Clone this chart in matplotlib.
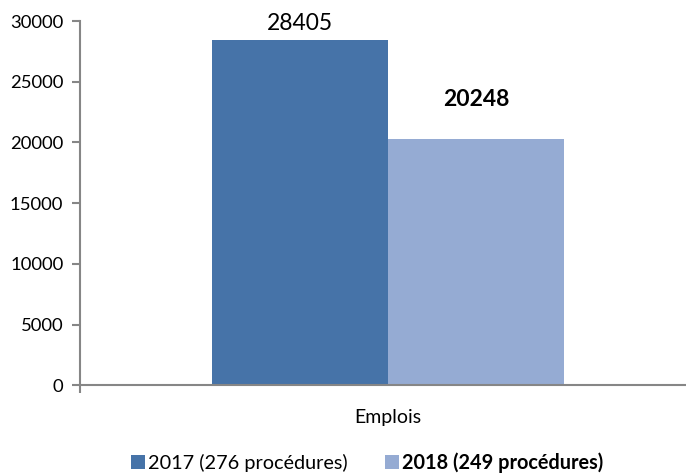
import matplotlib.pyplot as plt
from matplotlib.ticker import NullFormatter

plt.rcParams['font.family'] = ['Lato', 'DejaVu Sans']

# data
category = 'Emplois'
series = ['2017 (276 procédures)', '2018 (249 procédures)']
values = [28405, 20248]
colors = ['#4673a8', '#95abd3']
y_ticks = [0, 5000, 10000, 15000, 20000, 25000, 30000]

axis_grey = '#868686'

fig = plt.figure(figsize=(6.86, 4.73), dpi=100)
ax = fig.add_axes([0.1166, 0.185, 0.898, 0.7706])

bar_w = 0.2857
offsets = [-bar_w / 2, bar_w / 2]
for off, val, col, lab in zip(offsets, values, colors, series):
    ax.bar(off, val, width=bar_w, color=col, label=lab)

# data labels: first normal, second bold
ax.text(offsets[0], values[0] + 500, str(values[0]), ha='center', va='bottom',
        fontsize=16.5)
ax.text(offsets[1], values[1] + 2400, str(values[1]), ha='center', va='bottom',
        fontsize=16.5, fontweight='bold')

ax.set_xlim(-0.5, 0.5)
ax.set_ylim(0, 30000)
ax.set_yticks(y_ticks)
ax.set_yticklabels([str(t) for t in y_ticks], fontsize=13.3)

ax.set_xticks([-0.5, 0.5])
ax.xaxis.set_major_formatter(NullFormatter())
ax.set_xticks([0], minor=True)
ax.set_xticklabels([category], minor=True, fontsize=14)
ax.tick_params(axis='x', which='minor', length=0, pad=17)
ax.tick_params(axis='x', which='major', length=6, color=axis_grey, width=1.5)
ax.tick_params(axis='y', length=6, color=axis_grey, width=1.5, pad=6)

for s in ['top', 'right']:
    ax.spines[s].set_visible(False)
for s in ['left', 'bottom']:
    ax.spines[s].set_color(axis_grey)
    ax.spines[s].set_linewidth(1.5)

leg = ax.legend(loc='center', bbox_to_anchor=(367 / 686, 1 - 463 / 473),
                bbox_transform=fig.transFigure, ncol=2, frameon=False,
                fontsize=14.3, handlelength=0.7, handleheight=0.7,
                handletextpad=0.15, columnspacing=1.9)
leg.get_texts()[1].set_fontweight('bold')

fig.savefig('out.png', dpi=100)
